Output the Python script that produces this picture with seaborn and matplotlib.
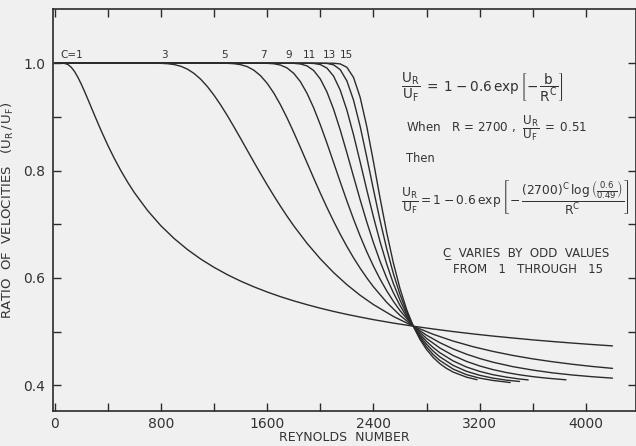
import numpy as np
import pandas as pd
import matplotlib
matplotlib.use("Agg")
import matplotlib.pyplot as plt
import seaborn as sns

# ---- data ----
c_values = [1, 3, 5, 7, 9, 11, 13, 15]

r_c1 = [0, 50, 75, 100, 125, 150, 175, 200, 225, 250, 275, 300, 350, 400, 450, 500, 550, 600, 700, 800,
        900, 1000, 1100, 1200, 1300, 1400, 1500, 1600, 1700, 1800, 1900, 2000, 2100, 2200, 2300, 2400,
        2550, 2700, 2850, 3000, 3150, 3300, 3450, 3600, 3750, 3900, 4050, 4200]
u_c1 = [1.0, 1.0, 0.9996, 0.9975, 0.9924, 0.9843, 0.9736, 0.961, 0.9472, 0.9327, 0.9179, 0.903, 0.8742,
        0.847, 0.822, 0.799, 0.778, 0.7588, 0.7253, 0.697, 0.6732, 0.6527, 0.635, 0.6196, 0.606, 0.594,
        0.5833, 0.5737, 0.565, 0.5572, 0.5501, 0.5435, 0.5375, 0.532, 0.527, 0.5222, 0.5158, 0.51, 0.5048,
        0.5, 0.4956, 0.4916, 0.488, 0.4845, 0.4814, 0.4785, 0.4758, 0.4733]

r_c3 = [0, 800, 850, 900, 950, 1000, 1050, 1100, 1150, 1200, 1250, 1300, 1350, 1400, 1450, 1500, 1550, 1600,
        1650, 1700, 1750, 1800, 1900, 2000, 2100, 2200, 2300, 2400, 2550, 2700, 2850, 3000, 3150, 3300,
        3450, 3600, 3750, 3900, 4050, 4200]
u_c3 = [1.0, 0.9998, 0.9991, 0.9975, 0.9943, 0.9889, 0.9808, 0.970, 0.9564, 0.9402, 0.9221, 0.9023, 0.8813,
        0.8597, 0.8377, 0.8158, 0.7943, 0.7733, 0.753, 0.7335, 0.7148, 0.697, 0.6644, 0.6355, 0.6099, 0.5874,
        0.5676, 0.5503, 0.5282, 0.51, 0.4949, 0.4823, 0.4718, 0.463, 0.4555, 0.4491, 0.4437, 0.439, 0.4349,
        0.4314]

r_c5 = [0, 1200, 1300, 1350, 1400, 1450, 1500, 1550, 1600, 1650, 1700, 1750, 1800, 1850, 1900, 1950, 2000,
        2050, 2100, 2150, 2200, 2250, 2300, 2350, 2400, 2500, 2600, 2700, 2800, 2900, 3000, 3100, 3200, 3300,
        3450, 3600, 3750, 3900, 4050, 4200]
u_c5 = [1.0, 1.0, 0.9998, 0.9991, 0.9973, 0.9936, 0.9869, 0.9767, 0.9625, 0.9443, 0.9225, 0.8979, 0.8711,
        0.843, 0.8145, 0.7859, 0.758, 0.7311, 0.7055, 0.6813, 0.6586, 0.6375, 0.618, 0.6, 0.5834, 0.5544,
        0.5302, 0.51, 0.4932, 0.4793, 0.4676, 0.4579, 0.4498, 0.4429, 0.4346, 0.4282, 0.423, 0.419, 0.4158,
        0.4132]

r_c7 = [0, 1500, 1600, 1650, 1700, 1750, 1800, 1850, 1900, 1950, 2000, 2050, 2100, 2150, 2200, 2250, 2300,
        2350, 2400, 2450, 2500, 2550, 2600, 2700, 2800, 2900, 3000, 3100, 3200, 3300, 3400, 3500, 3600, 3700,
        3850]
u_c7 = [1.0, 1.0, 0.9998, 0.999, 0.9966, 0.9911, 0.9811, 0.9656, 0.9439, 0.9168, 0.8853, 0.851, 0.8149,
        0.7788, 0.7434, 0.7096, 0.6779, 0.6486, 0.6219, 0.5977, 0.5759, 0.5564, 0.5391, 0.51, 0.4872, 0.4694,
        0.4554, 0.4445, 0.4359, 0.4291, 0.4237, 0.4194, 0.416, 0.4133, 0.4101]

r_c9 = [0, 1700, 1800, 1850, 1900, 1950, 2000, 2050, 2100, 2150, 2200, 2250, 2300, 2350, 2400, 2450, 2500,
        2550, 2600, 2650, 2700, 2750, 2800, 2850, 2900, 3000, 3100, 3200, 3300, 3400, 3500, 3565]
u_c9 = [1.0, 1.0, 0.9998, 0.9986, 0.995, 0.9864, 0.9706, 0.9464, 0.9141, 0.8756, 0.8331, 0.789, 0.7455,
        0.704, 0.6656, 0.6308, 0.5997, 0.5724, 0.5486, 0.5279, 0.51, 0.4947, 0.4815, 0.4702, 0.4606, 0.4453,
        0.434, 0.4258, 0.4196, 0.4151, 0.4116, 0.4099]

r_c11 = [0, 1900, 1950, 2000, 2050, 2100, 2150, 2200, 2250, 2300, 2350, 2400, 2450, 2500, 2550, 2600, 2650,
         2700, 2750, 2800, 2850, 2900, 3000, 3100, 3200, 3300, 3400, 3500]
u_c11 = [1.0, 1.0, 0.9996, 0.9975, 0.9909, 0.9759, 0.9498, 0.9126, 0.8667, 0.8159, 0.7638, 0.7137, 0.6672,
         0.6258, 0.5895, 0.5585, 0.5322, 0.51, 0.4915, 0.4762, 0.4635, 0.4529, 0.437, 0.426, 0.4185, 0.4132,
         0.4095, 0.407]

r_c13 = [0, 2000, 2050, 2100, 2150, 2200, 2250, 2300, 2350, 2400, 2450, 2500, 2550, 2600, 2650, 2700, 2750,
         2800, 2850, 2900, 3000, 3100, 3200, 3300, 3430]
u_c13 = [1.0, 1.0, 0.9996, 0.997, 0.988, 0.967, 0.9313, 0.8823, 0.8247, 0.7647, 0.7068, 0.6541, 0.608,
         0.569, 0.5366, 0.51, 0.4884, 0.4712, 0.4572, 0.4461, 0.4301, 0.4198, 0.4132, 0.4089, 0.405]

r_c15 = [0, 2100, 2150, 2200, 2250, 2300, 2350, 2400, 2450, 2500, 2550, 2600, 2650, 2700, 2750, 2800, 2850,
         2900, 2950, 3000, 3100, 3180]
u_c15 = [1.0, 1.0, 0.9987, 0.9924, 0.9735, 0.9364, 0.8818, 0.8166, 0.7485, 0.6844, 0.6278, 0.58, 0.5411,
         0.51, 0.4855, 0.4665, 0.4517, 0.4402, 0.4314, 0.4245, 0.4151, 0.4103]

c_label_text = ["C=1", "3", "5", "7", "9", "11", "13", "15"]
c_label_x = [125, 830, 1282, 1570, 1764, 1917, 2067, 2198]

x_tick_labels = ["0", "800", "1600", "2400", "3200", "4000"]
y_tick_labels = ["0.4", "0.6", "0.8", "1.0"]

# ---- build long table ----
rs = [r_c1, r_c3, r_c5, r_c7, r_c9, r_c11, r_c13, r_c15]
us = [u_c1, u_c3, u_c5, u_c7, u_c9, u_c11, u_c13, u_c15]
frames = [pd.DataFrame({"R": r, "ratio": u, "C": c}) for r, u, c in zip(rs, us, c_values)]
df = pd.concat(frames, ignore_index=True)

# ---- style ----
sns.set_theme(style="ticks")
bg = "#f0f0f0"
ink = "#2b2b2b"
tc = "#333333"
plt.rcParams["font.family"] = ["DejaVu Sans"]
plt.rcParams["mathtext.fontset"] = "dejavusans"
plt.rcParams["mathtext.default"] = "regular"

fig = plt.figure(figsize=(6.36, 4.46), dpi=100, facecolor=bg)
ax = fig.add_axes([0.0833, 0.0785, 0.9167, 0.9013], facecolor=bg)

sns.lineplot(data=df, x="R", y="ratio", hue="C", units="C", estimator=None,
             palette={c: ink for c in c_values}, legend=False, sort=False,
             linewidth=1.0, ax=ax)

ax.set_xlim(-13, 4377)
ax.set_ylim(0.352, 1.101)

ax.set_xticks(np.arange(0, 4001, 800))
ax.set_xticklabels(x_tick_labels)
ax.set_xticks(np.arange(400, 4400, 800), minor=True)
ax.set_yticks([0.4, 0.6, 0.8, 1.0])
ax.set_yticklabels(y_tick_labels)
ax.set_yticks([0.5, 0.7, 0.9], minor=True)

for which in ("major", "minor"):
    ax.tick_params(axis="both", which=which, direction="in", length=6, width=1.0,
                   color=ink, top=True, right=True, labelsize=10, labelcolor=tc)
ax.tick_params(axis="x", which="both", pad=4)
ax.tick_params(axis="y", which="both", pad=5.5)
for s in ax.spines.values():
    s.set_color(ink)
    s.set_linewidth(1.2)

ax.set_xlabel("REYNOLDS  NUMBER", fontsize=9, color=tc, labelpad=0)
ax.set_ylabel(r"RATIO  OF  VELOCITIES   $(U_R\,/\,U_F)$", fontsize=9.5, color=tc, labelpad=5)

for t, x in zip(c_label_text, c_label_x):
    ax.text(x, 1.0155, t, ha="center", va="center", fontsize=7.5, color=tc)

ax.text(0.597, 0.804, r"$\dfrac{U_R}{U_F}\;=\;1 - 0.6\,\exp\left[-\,\dfrac{b}{R^C}\right]$",
        transform=ax.transAxes, ha="left", va="center", fontsize=9.8, color=tc)
ax.text(0.6055, 0.704, r"When   R = 2700 ,  $\dfrac{U_R}{U_F}\;=\;0.51$",
        transform=ax.transAxes, ha="left", va="center", fontsize=8.6, color=tc)
ax.text(0.6055, 0.629, "Then", transform=ax.transAxes, ha="left", va="center",
        fontsize=8.3, color=tc)
ax.text(0.597, 0.533,
        r"$\dfrac{U_R}{U_F} = 1 - 0.6\,\exp\left[-\,\dfrac{(2700)^C\,\log\left(\frac{0.6}{0.49}\right)}{R^C}\right]$",
        transform=ax.transAxes, ha="left", va="center", fontsize=8.8, color=tc)
ax.text(0.669, 0.3948, "C\u0332  VARIES  BY  ODD  VALUES", transform=ax.transAxes,
        ha="left", va="center", fontsize=8.5, color=tc)
ax.text(0.686, 0.3532, "FROM   1   THROUGH   15", transform=ax.transAxes,
        ha="left", va="center", fontsize=8.5, color=tc)

fig.savefig("out.png", dpi=100, facecolor=bg)
